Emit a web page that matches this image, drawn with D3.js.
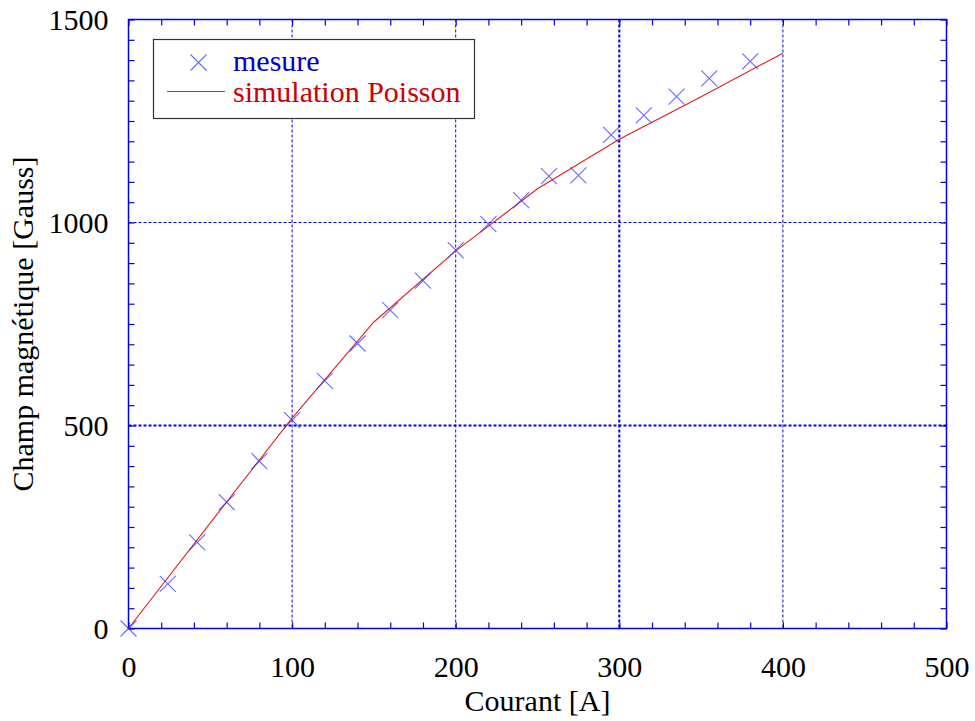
<!DOCTYPE html>
<html><head><meta charset="utf-8">
<script src="https://cdn.jsdelivr.net/npm/d3@7"></script>
<style>
body{margin:0;background:#fff;}
</style>
</head><body>
<svg id="chart" width="975" height="721"></svg>
<script>
// Data
const mesureX = [0, 24, 42, 60, 80, 100, 120, 140, 160, 180, 200, 220, 240, 257, 275, 295, 315, 335, 355, 380];
const mesureY = [0, 110, 212, 311, 412, 513, 610, 702, 784, 857, 932, 996, 1055, 1114, 1116, 1216, 1264, 1310, 1355, 1397];
const simX = [0, 50, 100, 150, 200, 250, 300, 350, 400];
const simY = [0, 260, 518, 755, 930, 1083, 1205, 1310, 1417];
const xTicks = [0, 100, 200, 300, 400, 500];
const yTicks = [0, 500, 1000, 1500];
const xGrid = [100, 200, 300, 400];
const yGrid = [500, 1000];
const legendLabels = ["mesure", "simulation Poisson"];
const xLabel = "Courant [A]";
const yLabel = "Champ magnétique [Gauss]";

const FONT = '"Liberation Serif", "Times New Roman", serif';
const svg = d3.select("#chart").attr("font-family", FONT);
const L = 128.5, R = 946.5, T = 19.5, B = 628.5;
const x = d3.scaleLinear().domain([0, 500]).range([L, R]);
const y = d3.scaleLinear().domain([0, 1500]).range([B, T]);
const blue = "#0000ee";
const FS = 30;

// grid
const g = svg.append("g");
g.selectAll(".vg").data(xGrid).enter().append("line")
  .attr("x1", d => x(d)).attr("x2", d => x(d)).attr("y1", T).attr("y2", B)
  .attr("stroke", blue).attr("stroke-width", d => d === 300 ? 2 : 1)
  .attr("stroke-dasharray", "3,2");
g.selectAll(".hg").data(yGrid).enter().append("line")
  .attr("y1", d => y(d)).attr("y2", d => y(d)).attr("x1", L).attr("x2", R)
  .attr("stroke", blue).attr("stroke-width", d => d === 500 ? 2 : 1)
  .attr("stroke-dasharray", "3,2");

// minor ticks (inward on all four sides)
const xMinor = d3.range(0, 501, 20);
const yMinor = d3.range(0, 1501, 50);
function tickAxis(axis, tr) {
  const a = svg.append("g").attr("transform", tr).call(axis);
  a.select(".domain").remove();
  a.selectAll("line").attr("stroke", blue).attr("stroke-width", 1.2);
  a.selectAll("text").remove();
}
tickAxis(d3.axisBottom(x).tickValues(xMinor).tickSize(-6).tickFormat(""), `translate(0,${B})`);
tickAxis(d3.axisTop(x).tickValues(xMinor).tickSize(-6).tickFormat(""), `translate(0,${T})`);
tickAxis(d3.axisLeft(y).tickValues(yMinor).tickSize(-6).tickFormat(""), `translate(${L},0)`);
tickAxis(d3.axisRight(y).tickValues(yMinor).tickSize(-6).tickFormat(""), `translate(${R},0)`);

// frame
svg.append("rect").attr("x", L).attr("y", T).attr("width", R - L).attr("height", B - T)
  .attr("fill", "none").attr("stroke", blue).attr("stroke-width", 1.5);

// tick labels
const xa = svg.append("g").attr("transform", `translate(0,${B})`)
  .call(d3.axisBottom(x).tickValues(xTicks).tickSize(0).tickPadding(27).tickFormat(d3.format("d")));
xa.attr("font-family", FONT).attr("font-size", FS);
xa.select(".domain").remove();
xa.selectAll("text").attr("font-size", FS).attr("fill", "#000").attr("font-family", FONT);
const ya = svg.append("g").attr("transform", `translate(${L},0)`)
  .call(d3.axisLeft(y).tickValues(yTicks).tickSize(0).tickPadding(20).tickFormat(d3.format("d")));
ya.attr("font-family", FONT).attr("font-size", FS);
ya.select(".domain").remove();
ya.selectAll("text").attr("font-size", FS).attr("fill", "#000").attr("font-family", FONT);

// axis titles
svg.append("text").attr("x", (L + R) / 2).attr("y", 711).attr("text-anchor", "middle")
  .attr("font-family", FONT).attr("font-size", FS).attr("fill", "#000").text(xLabel);
svg.append("text").attr("transform", `translate(33,${(T + B) / 2}) rotate(-90)`)
  .attr("font-family", FONT).attr("text-anchor", "middle").attr("font-size", FS).attr("fill", "#000").text(yLabel);

// simulation line
const lineColor = "#e02020";
const simData = simX.map((d, i) => [d, simY[i]]);
svg.append("path").datum(simData)
  .attr("d", d3.line().x(d => x(d[0])).y(d => y(d[1])))
  .attr("fill", "none").attr("stroke", lineColor).attr("stroke-width", 1.1);

// measured crosses
const cs = 8;
const markColor = "#2a2aff";
const mData = mesureX.map((d, i) => [d, mesureY[i]]);
const crossPath = (cx, cy) => `M${cx - cs},${cy - cs}L${cx + cs},${cy + cs}M${cx - cs},${cy + cs}L${cx + cs},${cy - cs}`;
svg.append("g").selectAll("path").data(mData).enter().append("path")
  .attr("d", d => crossPath(x(d[0]), y(d[1])))
  .attr("stroke", markColor).attr("stroke-opacity", 0.7).attr("stroke-width", 1.1).attr("fill", "none");

// legend
const lg = svg.append("g");
lg.append("rect").attr("x", 153.5).attr("y", 39.5).attr("width", 321).attr("height", 79)
  .attr("fill", "#fff").attr("stroke", "#333").attr("stroke-width", 1.2);
lg.append("path").attr("d", crossPath(198.5, 62.5))
  .attr("stroke", markColor).attr("stroke-opacity", 0.7).attr("stroke-width", 1.1);
lg.append("text").attr("x", 233).attr("y", 70.5).attr("font-family", FONT).attr("font-size", FS).attr("fill", "#0000cc").text(legendLabels[0]);
lg.append("line").attr("x1", 167).attr("x2", 225).attr("y1", 91.5).attr("y2", 91.5)
  .attr("stroke", lineColor).attr("stroke-width", 1.1);
lg.append("text").attr("x", 233).attr("y", 101.5).attr("font-family", FONT).attr("font-size", FS).attr("fill", "#cc0000").text(legendLabels[1]);
</script>
</body></html>
